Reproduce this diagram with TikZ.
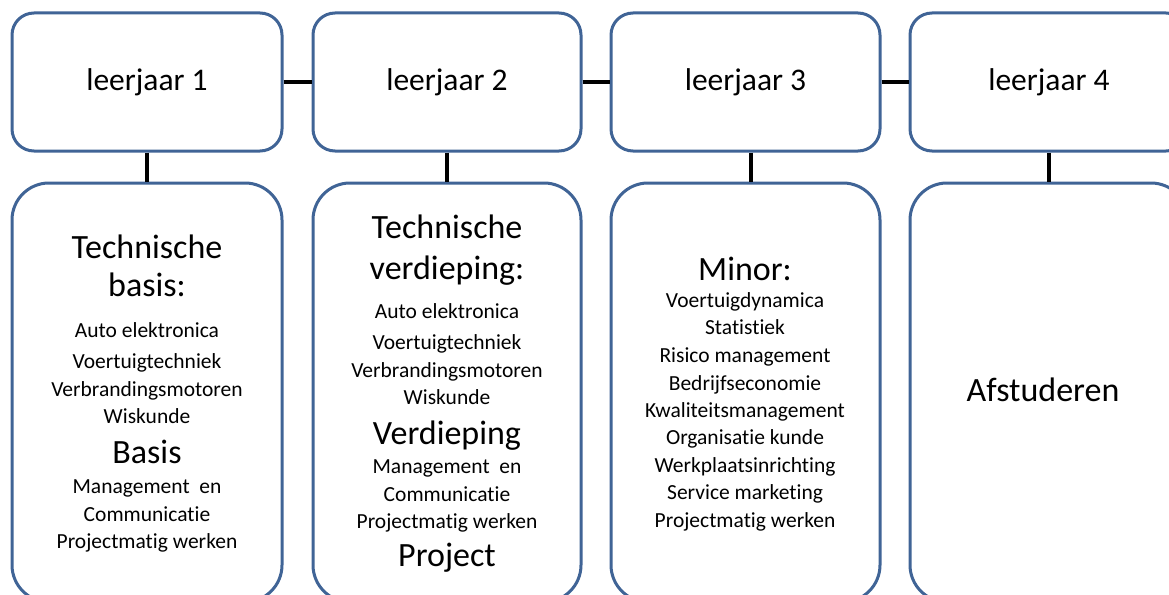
\documentclass[tikz,border=0pt]{standalone}
\usepackage{fontspec}
\setmainfont{Carlito}[Ligatures=NoCommon]
\definecolor{frameblue}{RGB}{64,100,150}
\begin{document}
\begin{tikzpicture}[x=1pt,y=-1pt,
  yearbox/.style={draw=frameblue, line width=3pt, rounded corners=22pt, fill=white,
    inner sep=0pt, minimum height=138pt, font=\fontsize{31.5}{34}\selectfont},
  subjbox/.style={draw=frameblue, line width=3pt, rounded corners=37pt, fill=white,
    inner sep=0pt, minimum height=419pt},
  link/.style={draw=black, line width=4pt},
  heading/.style={inner sep=0pt, anchor=center, text height=22pt, text depth=0pt,
    font=\fontsize{34}{36}\selectfont},
  item/.style={inner sep=0pt, anchor=center, text height=13.8pt, text depth=0pt,
    font=\fontsize{21.5}{24}\selectfont}]
\useasboundingbox (0,0) rectangle (1169,594);
\clip (0,0) rectangle (1169,594);

% year boxes along the top
\node[yearbox, minimum width=270pt] (y1) at (147,82)    {leerjaar 1};
\node[yearbox, minimum width=268pt] (y2) at (447,82)    {leerjaar 2};
\node[yearbox, minimum width=269pt] (y3) at (745.5,82)  {leerjaar 3};
\node[yearbox, minimum width=278pt] (y4) at (1049,82)   {leerjaar 4};

% programme boxes below
\node[subjbox, minimum width=270pt] (s1) at (147,392.5)   {};
\node[subjbox, minimum width=268pt] (s2) at (447,392.5)   {};
\node[subjbox, minimum width=269pt] (s3) at (745.5,392.5) {};
\node[subjbox, minimum width=278pt] (s4) at (1049,392.5)  {};

% connectors
\draw[link] (y1.east) -- (y2.west);
\draw[link] (y2.east) -- (y3.west);
\draw[link] (y3.east) -- (y4.west);
\draw[link] (y1.south) -- (s1.north);
\draw[link] (y2.south) -- (s2.north);
\draw[link] ([xshift=5pt]y3.south) -- ([xshift=5pt]s3.north);
\draw[link] (y4.south) -- (s4.north);

% year 1
\node[heading] (h1a) at (147,247) {Technische};
\node[heading] (h1b) at (147,285) {basis:};
\foreach \t/\y [count=\i] in {Auto elektronica/331, Voertuigtechniek/362,
    Verbrandingsmotoren/390, Wiskunde/417}
  \node[item] (a1\i) at (147,\y) {\t};
\node[heading] (h1c) at (147,452) {Basis};
\foreach \t/\y [count=\i] in {Management\ \ en/487, Communicatie/515,
    Projectmatig werken/542}
  \node[item] (b1\i) at (147,\y) {\t};

% year 2
\node[heading] (h2a) at (447,227) {Technische};
\node[heading] (h2b) at (447,268) {verdieping:};
\foreach \t/\y [count=\i] in {Auto elektronica/312, Voertuigtechniek/343,
    Verbrandingsmotoren/371, Wiskunde/398}
  \node[item] (a2\i) at (447,\y) {\t};
\node[heading] (h2c) at (447,433) {Verdieping};
\foreach \t/\y [count=\i] in {Management\ \ en/467, Communicatie/495,
    Projectmatig werken/522}
  \node[item] (b2\i) at (447,\y) {\t};
\node[heading] (h2d) at (447,555) {Project};

% year 3
\node[heading] (h3a) at (745,269) {Minor:};
\foreach \t/\y [count=\i] in {Voertuigdynamica/301, Statistiek/328,
    Risico management/356, Bedrijfseconomie/384, Kwaliteitsmanagement/411,
    Organisatie kunde/438, Werkplaatsinrichting/466, Service marketing/493,
    Projectmatig werken/521}
  \node[item] (a3\i) at (745,\y) {\t};

% year 4
\node[heading] (h4a) at (1043,390) {Afstuderen};
\end{tikzpicture}
\end{document}
